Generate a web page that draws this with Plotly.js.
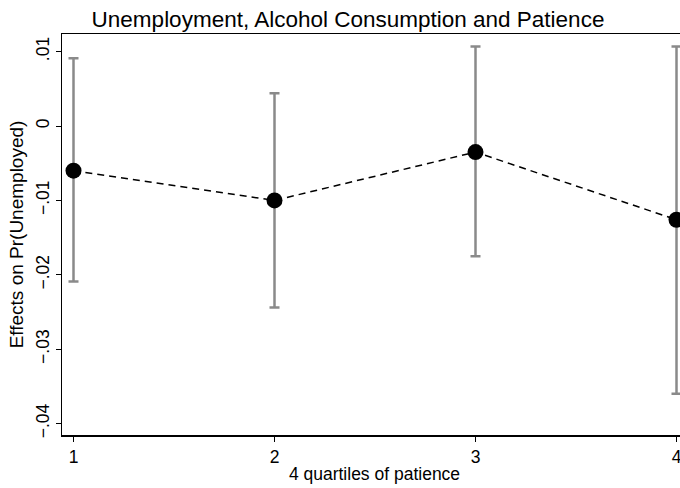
<!DOCTYPE html>
<html>
<head>
<meta charset="utf-8">
<script src="https://cdn.plot.ly/plotly-3.0.1.min.js"></script>
<style>
html,body{margin:0;padding:0;overflow:hidden;background:#fff;}
#chart{width:700px;height:488px;}
</style>
</head>
<body>
<div id="chart"></div>
<script>
var quartiles = [1, 2, 3, 4];
var estimates = [-0.0060, -0.0100, -0.0035, -0.0126];
var upperCI = [0.0091, 0.0044, 0.0107, 0.0107];
var lowerCI = [-0.0209, -0.0244, -0.0175, -0.0360];
var yTickVals = [-0.04, -0.03, -0.02, -0.01, 0, 0.01];
var yTickText = ['\u2212.04', '\u2212.03', '\u2212.02', '\u2212.01', '0', '.01'];
var xTickVals = [1, 2, 3, 4];

var errPlus = upperCI.map(function(u, i){ return u - estimates[i]; });
var errMinus = lowerCI.map(function(l, i){ return estimates[i] - l; });

var trace = {
  x: quartiles,
  y: estimates,
  type: 'scatter',
  mode: 'lines+markers',
  line: {color: '#000', width: 1.5, dash: '7px,5px'},
  marker: {color: '#000', size: 16},
  error_y: {
    type: 'data', symmetric: false,
    array: errPlus, arrayminus: errMinus,
    color: '#8a8a8a', thickness: 2.5, width: 5
  },
  cliponaxis: false,
  hoverinfo: 'skip'
};

var font = {family: 'Liberation Sans, Arial, sans-serif', color: '#000'};

var layout = {
  width: 700, height: 488,
  margin: {l: 62, r: 13, t: 34, b: 53},
  paper_bgcolor: '#fff', plot_bgcolor: '#fff',
  showlegend: false,
  font: font,
  title: {
    text: 'Unemployment, Alcohol Consumption and Patience',
    font: {family: font.family, size: 22.5, color: '#000'},
    x: 348/700, xanchor: 'center', xref: 'container',
    y: 1 - 19/488, yanchor: 'middle', yref: 'container'
  },
  xaxis: {
    range: [1 - 11.5/201, 1 + 613.5/201],
    tickvals: xTickVals,
    ticks: 'outside', ticklen: 5, tickwidth: 1, tickcolor: '#000',
    showline: true, linecolor: '#000', linewidth: 1.5, mirror: true,
    showgrid: false, zeroline: false,
    tickfont: {family: font.family, size: 17.5, color: '#000'},
    title: {text: '4 quartiles of patience', font: {family: font.family, size: 17.5, color: '#000'}, standoff: 2}
  },
  yaxis: {
    range: [-0.04153, 0.01237],
    tickvals: yTickVals, ticktext: yTickText,
    tickangle: -90,
    ticks: 'outside', ticklen: 5, tickwidth: 1, tickcolor: '#000',
    showline: true, linecolor: '#000', linewidth: 1.5, mirror: false,
    showgrid: false, zeroline: false,
    tickfont: {family: font.family, size: 17.5, color: '#000'},
    title: {text: 'Effects on Pr(Unemployed)', font: {family: font.family, size: 19, color: '#000'}, standoff: 4}
  }
};

Plotly.newPlot('chart', [trace], layout, {displayModeBar: false, staticPlot: true});
</script>
</body>
</html>
